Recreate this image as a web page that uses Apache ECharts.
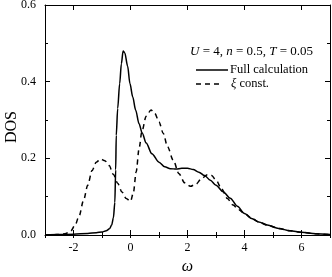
<!DOCTYPE html>
<html><head><meta charset="utf-8">
<script src="https://cdn.jsdelivr.net/npm/echarts@6/dist/echarts.min.js"></script>
<style>html,body{margin:0;padding:0;background:#fff}#c{width:332px;height:277px}</style>
</head><body><div id="c"></div>
<script>
const omegaFull = [-3,-2.5,-2,-1.5,-1.2,-1.0,-0.85,-0.74,-0.66,-0.6,-0.55,-0.52,-0.5,-0.45,-0.38,-0.32,-0.26,-0.2,-0.1,-0.02,0.08,0.18,0.3,0.41,0.55,0.75,1.0,1.2,1.4,1.6,1.8,2.0,2.2,2.4,2.6,2.8,3.0,3.25,3.5,3.75,4.0,4.25,4.5,4.8,5.2,5.6,6.0,6.5,7.0];
const dosFull = [0,0.001,0.002,0.004,0.006,0.008,0.011,0.016,0.026,0.045,0.085,0.17,0.26,0.33,0.395,0.447,0.48,0.475,0.44,0.395,0.36,0.326,0.29,0.266,0.24,0.212,0.19,0.178,0.173,0.172,0.174,0.174,0.171,0.164,0.155,0.143,0.13,0.113,0.096,0.075,0.056,0.043,0.034,0.026,0.017,0.011,0.007,0.003,0.001];
const omegaConst = [-3,-2.6,-2.3,-2.1,-1.95,-1.8,-1.65,-1.5,-1.35,-1.2,-1.05,-0.9,-0.75,-0.6,-0.45,-0.3,-0.15,0,0.1,0.2,0.3,0.4,0.55,0.72,0.85,1.0,1.15,1.3,1.5,1.7,1.9,2.1,2.3,2.5,2.7,2.85,3.0,3.2,3.4,3.6,3.8,4.0,4.25,4.5,4.8,5.2,5.6,6.0,6.5,7.0];
const dosConst = [0,0.001,0.003,0.01,0.025,0.05,0.09,0.13,0.168,0.19,0.198,0.194,0.181,0.158,0.135,0.112,0.095,0.088,0.11,0.165,0.225,0.27,0.31,0.326,0.318,0.295,0.265,0.23,0.195,0.16,0.136,0.127,0.133,0.148,0.157,0.155,0.143,0.12,0.095,0.078,0.066,0.056,0.044,0.034,0.026,0.017,0.011,0.007,0.003,0.001];
const seriesNames = ['Full calculation','ξ const.'];
const paramText = '{i|U} = 4, {i|n} = 0.5, {i|T} = 0.05';
const xName = 'ω', yName = 'DOS';

const F = 'Liberation Serif';
const zip = (a,b) => a.map((v,i)=>[v,b[i]]);
const chart = echarts.init(document.getElementById('c'), null, {renderer:'canvas'});
const axLine = {show:true, onZero:false, lineStyle:{color:'#000', width:1}};
const baseX = {type:'value', min:-3, max:7};
chart.setOption({
  animation:false,
  grid:{left:45, right:2, top:5, bottom:42, outerBoundsMode:'none', containLabel:false},
  graphic:[
    {type:'text', left:190, top:45, style:{text:paramText, font:'13px '+F, fill:'#000',
      rich:{i:{fontFamily:F, fontStyle:'italic', fontSize:13}}}},
    {type:'line', shape:{x1:196, y1:70, x2:228, y2:70}, style:{stroke:'#000', lineWidth:1.5}},
    {type:'text', left:230, top:63, style:{text:seriesNames[0], font:'12.5px '+F, fill:'#000'}},
    {type:'line', shape:{x1:196, y1:84, x2:222, y2:84}, style:{stroke:'#000', lineWidth:1.5, lineDash:[5,4]}},
    {type:'text', left:231, top:77, style:{text:'{i|ξ} const.', font:'12.5px '+F, fill:'#000',
      rich:{i:{fontFamily:F, fontStyle:'italic', fontSize:12.5}}}},
    {type:'text', x:12, y:127, rotation:Math.PI/2, style:{text:yName, font:'16px '+F, fill:'#000', align:'center', verticalAlign:'middle'}}
  ],
  xAxis:[
    Object.assign({}, baseX, {position:'bottom', axisLine:axLine, splitLine:{show:false},
      axisTick:{inside:true, length:5, lineStyle:{color:'#000'}},
      axisLabel:{margin:7, fontFamily:F, fontSize:12, color:'#000', formatter:v => (v % 2 === 0 ? String(v) : '')},
      name:xName, nameLocation:'middle', nameGap:24, nameTextStyle:{fontFamily:F, fontStyle:'italic', fontSize:16, color:'#000'}}),
    Object.assign({}, baseX, {position:'bottom', interval:1, axisLine:{show:false}, splitLine:{show:false},
      axisTick:{inside:true, length:3, lineStyle:{color:'#000'}}, axisLabel:{show:false}}),
    Object.assign({}, baseX, {position:'top', axisLine:axLine, splitLine:{show:false},
      axisTick:{inside:true, length:5, lineStyle:{color:'#000'}}, axisLabel:{show:false}}),
    Object.assign({}, baseX, {position:'top', interval:1, axisLine:{show:false}, splitLine:{show:false},
      axisTick:{inside:true, length:3, lineStyle:{color:'#000'}}, axisLabel:{show:false}})
  ],
  yAxis:[
    {type:'value', min:0, max:0.6, interval:0.2, position:'left', axisLine:axLine, splitLine:{show:false},
      axisTick:{inside:true, length:5, lineStyle:{color:'#000'}},
      minorTick:{show:true, splitNumber:2, length:3, lineStyle:{color:'#000'}},
      axisLabel:{margin:9, fontFamily:F, fontSize:12, color:'#000', formatter:v => v.toFixed(1)}},
    {type:'value', min:0, max:0.6, interval:0.2, position:'right', axisLine:axLine, splitLine:{show:false},
      axisTick:{inside:true, length:5, lineStyle:{color:'#000'}},
      minorTick:{show:true, splitNumber:2, length:3, lineStyle:{color:'#000'}},
      axisLabel:{show:false}}
  ],
  series:[
    {name:seriesNames[0], type:'line', xAxisIndex:0, yAxisIndex:0, data:zip(omegaFull,dosFull),
      smooth:0.3, smoothMonotone:'x', symbol:'none', lineStyle:{color:'#000', width:1.5, type:'solid'}},
    {name:seriesNames[1], type:'line', xAxisIndex:0, yAxisIndex:0, data:zip(omegaConst,dosConst),
      smooth:0.3, smoothMonotone:'x', symbol:'none', lineStyle:{color:'#000', width:1.5, type:[5,4]}}
  ]
});
</script></body></html>
